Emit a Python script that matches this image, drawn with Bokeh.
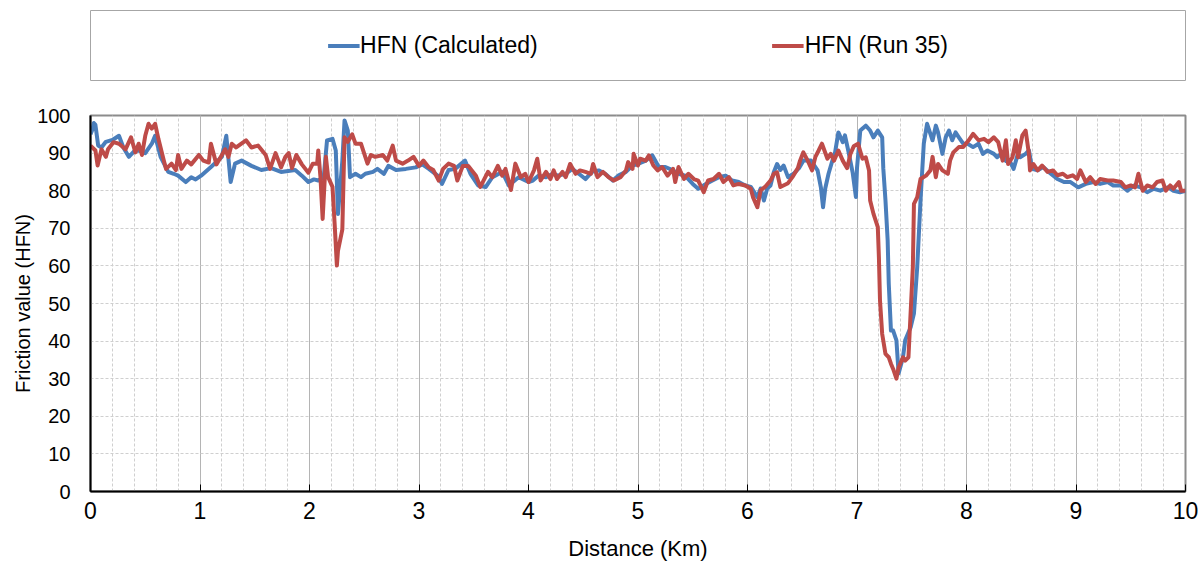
from bokeh.plotting import figure
from bokeh.models import Range1d, SingleIntervalTicker, Legend, LegendItem
from bokeh.layouts import column
from bokeh.embed import file_html
from bokeh.resources import INLINE

# ---------------- data ----------------
calc_km = [0.00, 0.02, 0.03, 0.045, 0.07, 0.10, 0.14, 0.20, 0.26, 0.30, 0.35, 0.40, 0.44, 0.50, 0.56, 0.59,
           0.64, 0.71, 0.76, 0.80, 0.87, 0.92, 0.96, 1.01, 1.10, 1.20, 1.24, 1.28, 1.32, 1.38, 1.47, 1.56,
           1.65, 1.74, 1.87, 1.93, 1.99, 2.04, 2.08, 2.13, 2.16, 2.21, 2.24, 2.26, 2.30, 2.32, 2.35, 2.37,
           2.42, 2.47, 2.51, 2.58, 2.62, 2.68, 2.72, 2.79, 2.88, 2.97, 3.03, 3.09, 3.17, 3.21, 3.27, 3.33,
           3.42, 3.47, 3.54, 3.61, 3.67, 3.76, 3.82, 3.91, 4.00, 4.04, 4.09, 4.16, 4.22, 4.27, 4.34, 4.40,
           4.46, 4.52, 4.58, 4.64, 4.70, 4.77, 4.82, 4.89, 4.95, 5.00, 5.07, 5.13, 5.19, 5.25, 5.32, 5.37,
           5.43, 5.50, 5.55, 5.62, 5.68, 5.74, 5.80, 5.86, 5.92, 5.98, 6.03, 6.09, 6.12, 6.15, 6.18, 6.21,
           6.24, 6.27, 6.30, 6.33, 6.37, 6.42, 6.47, 6.51, 6.58, 6.64, 6.67, 6.69, 6.71, 6.74, 6.78, 6.80,
           6.83, 6.87, 6.89, 6.92, 6.96, 6.99, 7.00, 7.03, 7.08, 7.12, 7.15, 7.19, 7.23, 7.24, 7.26, 7.28,
           7.29, 7.31, 7.33, 7.36, 7.38, 7.42, 7.44, 7.49, 7.52, 7.55, 7.58, 7.61, 7.64, 7.69, 7.72, 7.74,
           7.78, 7.81, 7.84, 7.87, 7.90, 7.93, 7.97, 8.01, 8.06, 8.11, 8.15, 8.19, 8.25, 8.28, 8.33, 8.36,
           8.40, 8.43, 8.47, 8.49, 8.54, 8.57, 8.60, 8.65, 8.70, 8.77, 8.83, 8.89, 8.95, 9.02, 9.09, 9.16,
           9.22, 9.29, 9.34, 9.41, 9.47, 9.53, 9.59, 9.65, 9.71, 9.77, 9.84, 9.89, 9.95, 10.00]
calc_hfn = [95.0, 96.5, 98.0, 97.5, 92.0, 91.5, 93.0, 93.5, 94.6, 91.5, 89.0, 90.5, 90.7, 90.0, 92.5, 94.6,
            89.0, 85.0, 84.5, 84.0, 82.3, 83.6, 83.0, 84.0, 86.3, 89.0, 94.6, 82.3, 87.2, 88.0, 86.6, 85.5,
            86.0, 85.0, 85.5, 84.0, 82.3, 83.0, 82.7, 83.6, 93.4, 93.8, 90.7, 73.8, 88.0, 98.7, 96.0, 83.6,
            84.5, 83.6, 84.5, 85.0, 85.8, 84.5, 86.6, 85.5, 85.8, 86.2, 87.0, 85.8, 84.0, 81.8, 85.5, 85.8,
            88.0, 84.5, 81.4, 81.0, 83.6, 85.0, 81.4, 83.6, 82.3, 82.7, 84.0, 83.6, 84.5, 84.0, 84.5, 85.8,
            84.5, 83.1, 85.0, 85.4, 84.5, 82.7, 84.0, 85.0, 86.7, 87.1, 88.0, 89.4, 86.3, 86.3, 85.4, 84.5,
            84.0, 81.8, 80.5, 81.8, 82.7, 83.6, 84.0, 82.7, 82.3, 81.4, 81.0, 78.3, 80.6, 77.4, 80.6, 81.4,
            84.9, 87.1, 85.5, 86.7, 83.6, 84.5, 86.0, 88.0, 88.0, 85.4, 80.9, 75.6, 80.6, 84.5, 88.5, 90.2,
            95.5, 92.9, 94.7, 90.7, 84.9, 78.3, 86.0, 96.0, 97.3, 96.0, 94.2, 96.0, 94.2, 86.0, 77.4, 66.8,
            55.3, 42.8, 42.8, 40.2, 31.4, 35.7, 40.2, 43.7, 47.3, 59.7, 77.4, 92.5, 97.8, 93.4, 97.3, 95.5,
            89.8, 94.2, 96.0, 93.4, 95.5, 94.2, 92.5, 92.5, 91.6, 92.5, 89.8, 90.7, 89.8, 88.9, 90.2, 87.9,
            87.6, 85.8, 89.8, 88.9, 89.8, 90.7, 85.8, 85.4, 86.3, 84.5, 83.1, 82.3, 82.3, 80.9, 81.8, 82.3,
            81.8, 82.3, 81.4, 81.4, 80.0, 81.4, 80.9, 79.6, 80.5, 80.0, 80.9, 80.0, 79.6, 80.0]

run35_km = [0.00, 0.045, 0.065, 0.10, 0.14, 0.16, 0.21, 0.26, 0.32, 0.37, 0.41, 0.44, 0.47, 0.50, 0.53, 0.56,
            0.59, 0.62, 0.67, 0.69, 0.74, 0.78, 0.80, 0.83, 0.88, 0.92, 0.99, 1.03, 1.08, 1.10, 1.15, 1.20,
            1.23, 1.26, 1.29, 1.33, 1.42, 1.47, 1.53, 1.60, 1.64, 1.69, 1.74, 1.78, 1.81, 1.84, 1.88, 1.93,
            1.99, 2.03, 2.07, 2.08, 2.10, 2.12, 2.15, 2.17, 2.21, 2.23, 2.25, 2.26, 2.30, 2.32, 2.35, 2.39,
            2.42, 2.47, 2.49, 2.53, 2.56, 2.60, 2.67, 2.71, 2.76, 2.79, 2.85, 2.90, 2.95, 3.00, 3.04, 3.09,
            3.13, 3.18, 3.22, 3.27, 3.32, 3.35, 3.40, 3.45, 3.52, 3.56, 3.63, 3.67, 3.72, 3.76, 3.79, 3.84,
            3.88, 3.93, 3.97, 4.00, 4.05, 4.08, 4.11, 4.16, 4.20, 4.23, 4.26, 4.31, 4.34, 4.38, 4.43, 4.47,
            4.52, 4.57, 4.59, 4.63, 4.68, 4.73, 4.78, 4.84, 4.89, 4.91, 4.95, 4.96, 5.00, 5.02, 5.07, 5.10,
            5.14, 5.18, 5.22, 5.27, 5.32, 5.34, 5.37, 5.42, 5.46, 5.51, 5.55, 5.60, 5.64, 5.69, 5.74, 5.78,
            5.83, 5.87, 5.92, 5.98, 6.03, 6.05, 6.09, 6.12, 6.16, 6.21, 6.24, 6.27, 6.30, 6.37, 6.41, 6.46,
            6.48, 6.51, 6.55, 6.59, 6.62, 6.65, 6.68, 6.73, 6.76, 6.79, 6.83, 6.87, 6.91, 6.94, 6.97, 7.01,
            7.05, 7.08, 7.11, 7.12, 7.15, 7.19, 7.20, 7.21, 7.23, 7.26, 7.29, 7.31, 7.33, 7.36, 7.38, 7.42,
            7.44, 7.47, 7.51, 7.52, 7.55, 7.58, 7.63, 7.67, 7.69, 7.72, 7.74, 7.78, 7.83, 7.85, 7.88, 7.93,
            7.97, 8.02, 8.06, 8.11, 8.16, 8.20, 8.25, 8.29, 8.33, 8.36, 8.38, 8.42, 8.45, 8.47, 8.51, 8.54,
            8.57, 8.58, 8.61, 8.65, 8.69, 8.74, 8.79, 8.83, 8.88, 8.92, 8.97, 9.01, 9.04, 9.09, 9.13, 9.18,
            9.22, 9.29, 9.34, 9.41, 9.45, 9.50, 9.54, 9.57, 9.61, 9.65, 9.70, 9.74, 9.79, 9.82, 9.86, 9.89,
            9.94, 9.96, 10.00]
run35_hfn = [92.0, 90.7, 86.7, 91.0, 89.0, 91.0, 92.9, 92.5, 91.0, 94.2, 90.2, 92.5, 89.5, 94.6, 97.8, 96.5,
             97.8, 93.8, 88.0, 85.8, 87.2, 85.5, 89.5, 85.8, 88.0, 87.0, 89.5, 88.0, 87.5, 92.5, 87.0, 89.5,
             91.0, 89.0, 92.5, 91.5, 93.4, 91.5, 92.0, 89.5, 85.8, 90.0, 86.2, 89.0, 90.0, 86.0, 89.5, 87.0,
             84.8, 87.2, 87.2, 90.7, 83.6, 72.5, 89.0, 83.6, 81.0, 71.0, 60.1, 64.0, 69.7, 94.2, 93.0, 95.0,
             92.5, 92.5, 90.7, 87.2, 89.5, 89.0, 89.5, 88.0, 92.0, 88.0, 87.2, 88.0, 89.0, 86.6, 88.0, 86.2,
             85.5, 82.7, 85.8, 87.2, 86.6, 82.7, 86.6, 86.6, 84.0, 81.0, 85.0, 83.6, 86.6, 84.0, 85.8, 80.2,
             87.2, 83.6, 84.5, 82.3, 85.4, 88.5, 82.7, 85.0, 83.1, 85.4, 83.1, 85.0, 83.6, 87.1, 84.5, 85.4,
             85.0, 84.5, 87.1, 83.6, 85.0, 83.6, 82.7, 83.6, 85.4, 87.6, 85.8, 89.8, 86.7, 88.5, 88.0, 89.4,
             86.7, 85.4, 86.3, 84.0, 85.8, 82.3, 86.3, 83.1, 84.5, 83.1, 82.7, 79.6, 82.7, 83.1, 84.5, 82.3,
             83.6, 81.4, 81.8, 81.4, 80.5, 78.3, 75.6, 80.1, 81.0, 82.7, 84.5, 84.9, 81.0, 82.0, 83.6, 86.0,
             88.0, 90.2, 88.0, 85.4, 89.0, 90.7, 92.5, 88.5, 89.8, 88.0, 90.7, 88.0, 86.0, 89.8, 91.8, 92.5,
             88.5, 88.9, 85.4, 77.4, 73.9, 70.3, 62.3, 50.8, 41.9, 36.6, 35.7, 34.0, 32.6, 30.0, 33.0, 35.7,
             34.8, 35.7, 59.7, 76.5, 78.3, 83.1, 84.0, 85.4, 89.0, 83.6, 87.1, 85.4, 84.5, 88.0, 90.2, 91.6,
             91.6, 93.4, 95.1, 93.4, 93.8, 92.9, 94.2, 92.9, 88.0, 93.4, 87.1, 88.9, 93.4, 88.9, 94.7, 96.0,
             89.8, 85.4, 87.1, 85.4, 86.7, 85.0, 85.4, 84.1, 84.5, 83.6, 84.1, 83.1, 85.4, 82.3, 83.6, 81.8,
             83.1, 82.7, 82.7, 82.3, 80.9, 81.4, 80.9, 84.5, 80.0, 81.4, 80.9, 82.3, 82.7, 80.0, 81.4, 80.5,
             82.3, 80.0, 80.0]

series_names = ["HFN (Calculated)", "HFN (Run 35)"]
x_title = "Distance (Km)"
y_title = "Friction value (HFN)"

BLUE = "#4A7EBB"
RED = "#BE4B48"
FONT = "Liberation Sans"
NAN = float("nan")

# ---------------- legend strip ----------------
leg = figure(width=1200, height=100, output_backend="svg", toolbar_location=None,
             x_range=Range1d(0, 1), y_range=Range1d(0, 1),
             min_border_left=90, min_border_right=15, min_border_top=10, min_border_bottom=20)
leg.axis.visible = False
leg.grid.visible = False
leg.outline_line_color = "#A6A6A6"
leg.outline_line_width = 1
# proxy renderers that draw nothing; they only supply the legend swatches
r1 = leg.line(x=[NAN], y=[NAN], line_color=BLUE, line_width=4)
r2 = leg.line(x=[NAN], y=[NAN], line_color=RED, line_width=4)
legend = Legend(items=[LegendItem(label=series_names[0], renderers=[r1]),
                       LegendItem(label=series_names[1], renderers=[r2])],
                orientation="horizontal", location="center",
                spacing=234, padding=0, margin=0,
                glyph_width=32, glyph_height=20, label_standoff=1,
                label_text_font=FONT, label_text_font_size="23px", label_text_color="black",
                border_line_alpha=0, background_fill_alpha=0)
leg.add_layout(legend, "center")

# ---------------- main chart ----------------
p = figure(width=1200, height=464, output_backend="svg", toolbar_location=None,
           x_range=Range1d(0, 10), y_range=Range1d(0, 100),
           min_border_left=90, min_border_right=15, min_border_top=15, min_border_bottom=73)

p.line(calc_km, calc_hfn, line_color=BLUE, line_width=4, line_join="round")
p.line(run35_km, run35_hfn, line_color=RED, line_width=4, line_join="round")

p.xaxis.ticker = SingleIntervalTicker(interval=1, num_minor_ticks=5)
p.yaxis.ticker = SingleIntervalTicker(interval=10, num_minor_ticks=0)

p.outline_line_color = "#8C8C8C"
p.outline_line_width = 2

for ax in (p.xaxis[0], p.yaxis[0]):
    ax.axis_line_color = "black"
    ax.axis_line_width = 2
    ax.minor_tick_line_color = None
    ax.major_label_text_font = FONT
    ax.major_label_text_color = "black"
    ax.axis_label_text_font = FONT
    ax.axis_label_text_font_style = "normal"
    ax.axis_label_text_color = "black"

p.xaxis.major_tick_in = 7
p.xaxis.major_tick_out = 0
p.xaxis.major_tick_line_color = "black"
p.xaxis.major_tick_line_width = 1
p.xaxis.major_label_text_font_size = "23px"
p.xaxis.major_label_standoff = 6
p.xaxis.axis_label = x_title
p.xaxis.axis_label_text_font_size = "22px"
p.xaxis.axis_label_standoff = 14

p.yaxis.major_tick_line_color = None
p.yaxis.major_tick_in = 0
p.yaxis.major_tick_out = 0
p.yaxis.major_label_text_font_size = "20px"
p.yaxis.major_label_standoff = 20
p.yaxis.axis_label = y_title
p.yaxis.axis_label_text_font_size = "20px"
p.yaxis.axis_label_standoff = 0

p.xgrid.grid_line_color = "#B4B4B4"
p.xgrid.grid_line_width = 1
p.xgrid.minor_grid_line_color = "#CFCFCF"
p.xgrid.minor_grid_line_dash = "3 2"
p.xgrid.minor_grid_line_width = 1
p.ygrid.grid_line_color = "#CFCFCF"
p.ygrid.grid_line_dash = "3 2"
p.ygrid.grid_line_width = 1

layout = column(leg, p, spacing=0)
open("out.html", "w").write(file_html(layout, INLINE))
